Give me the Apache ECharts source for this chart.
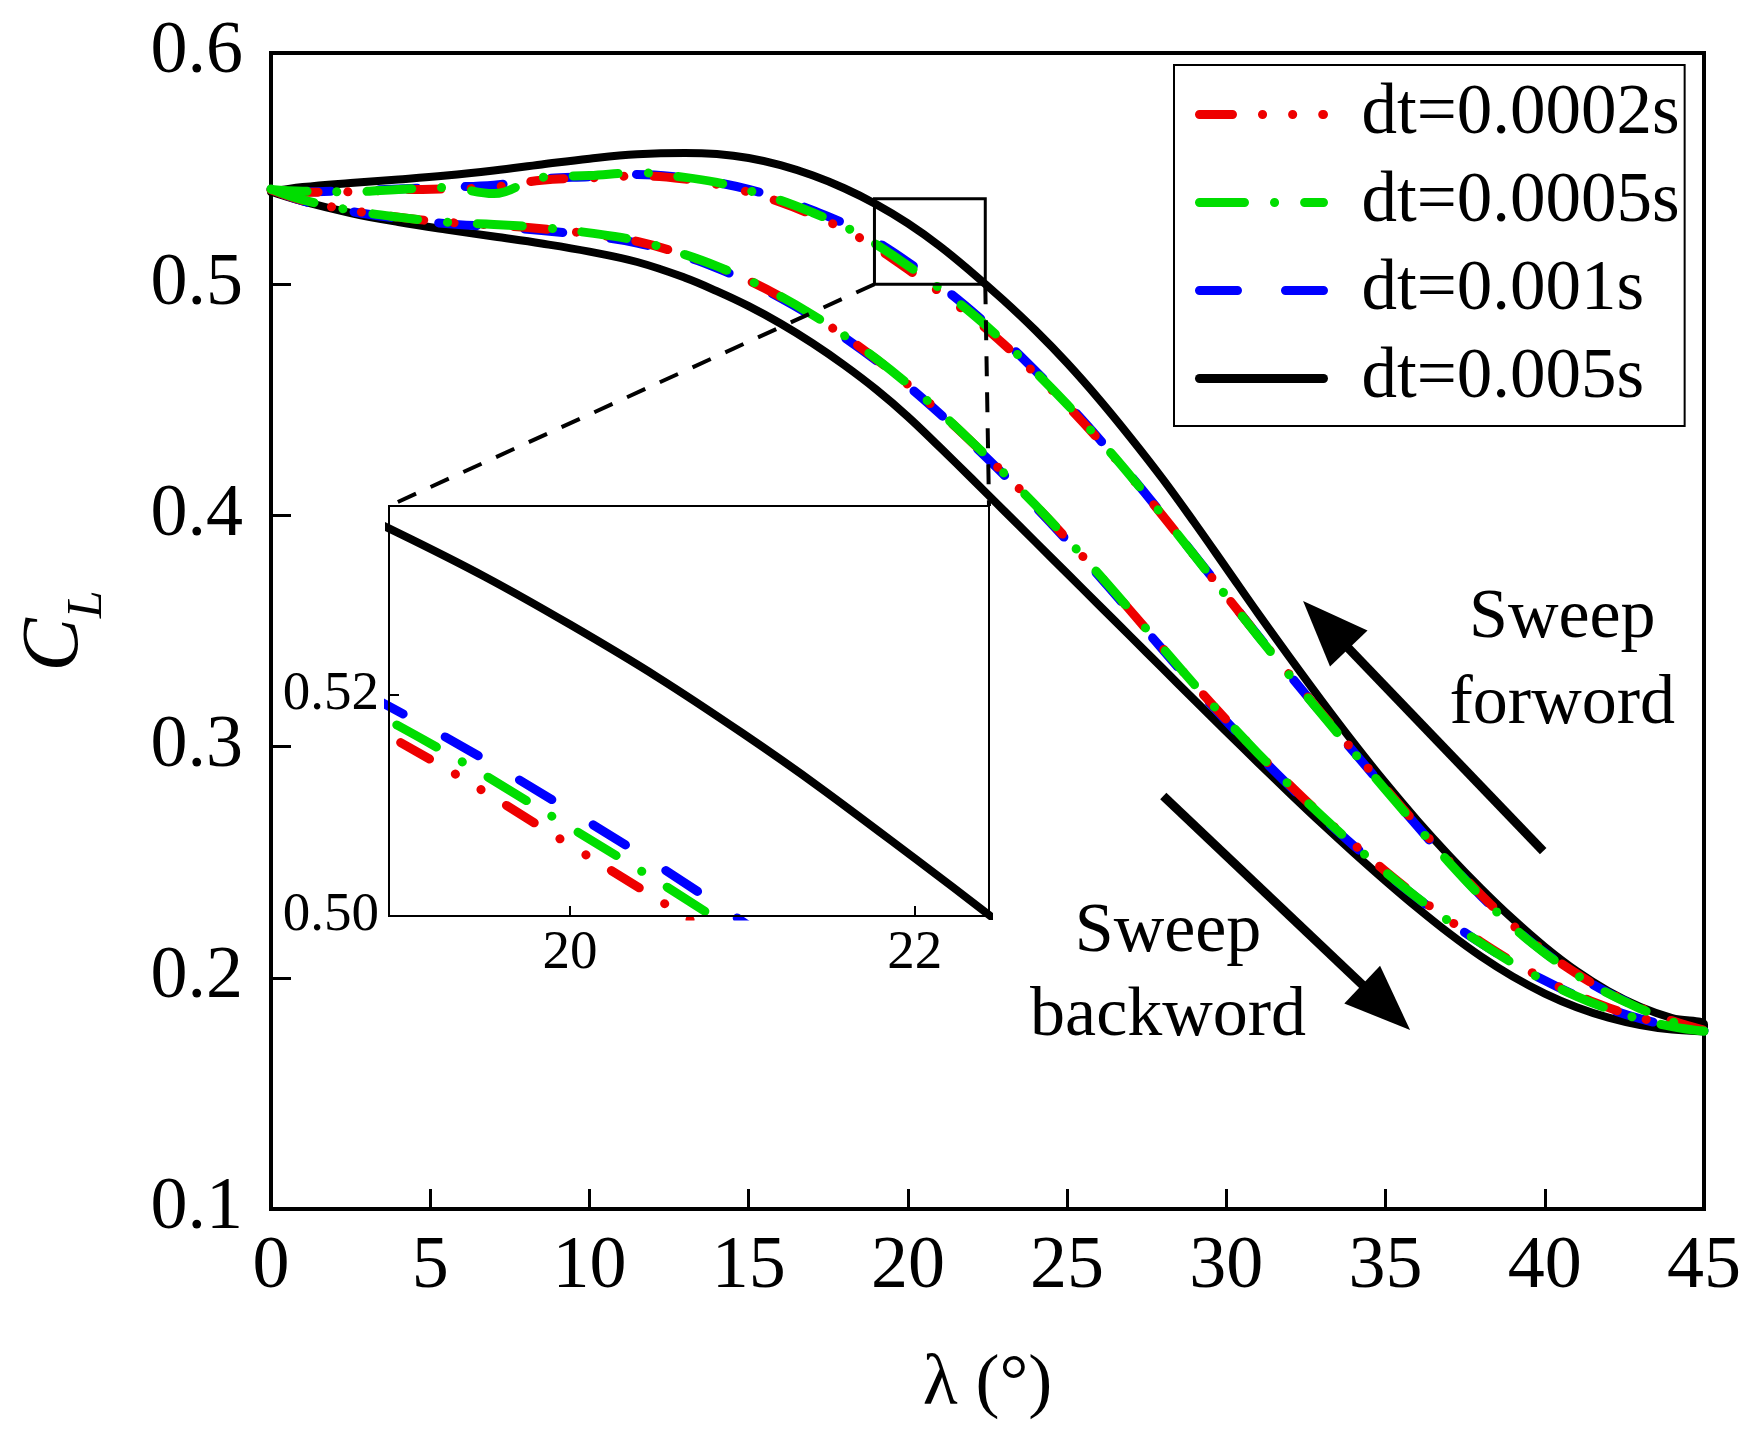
<!DOCTYPE html>
<html>
<head>
<meta charset="utf-8">
<script src="https://cdn.jsdelivr.net/npm/echarts@6/dist/echarts.min.js"></script>
<style>
  html, body { margin: 0; padding: 0; background: #fff; }
  #chart { width: 1756px; height: 1443px; }
</style>
</head>
<body>
<div id="chart"></div>
<script>
// sweep angle (deg), shared by every branch
const lambda = [0, 1, 2.5, 4, 5.5, 7, 8.5, 10, 11.5, 13, 14, 15, 16, 17, 18, 19, 20, 21, 22, 23, 24,
  25, 26, 27, 28, 29, 30, 31, 32, 33, 34, 35, 36, 37, 38, 39, 40, 41, 42, 43, 44, 45];

// dt = 0.005s
const black_lower = [0.5400, 0.5358, 0.5308, 0.5269, 0.5236, 0.5206, 0.5176, 0.5141, 0.5096, 0.5028,
  0.4970, 0.4905, 0.4830, 0.4745, 0.4650, 0.4545, 0.4427, 0.4295, 0.4160, 0.4023,
  0.3886, 0.3749, 0.3612, 0.3475, 0.3338, 0.3201, 0.3065, 0.2930, 0.2797, 0.2667,
  0.2541, 0.2419, 0.2302, 0.2192, 0.2092, 0.2005, 0.1932, 0.1873, 0.1828, 0.1796,
  0.1776, 0.1768];
const black_upper = [0.5400, 0.5420, 0.5438, 0.5453, 0.5470, 0.5492, 0.5518, 0.5543, 0.5562, 0.5568,
  0.5563, 0.5546, 0.5515, 0.5471, 0.5415, 0.5346, 0.5263, 0.5165, 0.5052, 0.4931,
  0.4801, 0.4659, 0.4503, 0.4335, 0.4158, 0.3968, 0.3772, 0.3575, 0.3384, 0.3197,
  0.3016, 0.2843, 0.2680, 0.2528, 0.2386, 0.2254, 0.2134, 0.2029, 0.1942, 0.1874,
  0.1826, 0.1799];

// dt = 0.001s
const blue_lower = [0.5410, 0.5360, 0.5315, 0.5285, 0.5262, 0.5248, 0.5232, 0.5210, 0.5178, 0.5120,
  0.5070, 0.5010, 0.4940, 0.4860, 0.4770, 0.4670, 0.4560, 0.4440, 0.4312, 0.4178,
  0.4038, 0.3891, 0.3738, 0.3580, 0.3420, 0.3262, 0.3110, 0.2965, 0.2827, 0.2696,
  0.2572, 0.2455, 0.2345, 0.2243, 0.2149, 0.2064, 0.1988, 0.1922, 0.1867, 0.1823,
  0.1791, 0.1771];
const blue_upper = [0.5405, 0.5400, 0.5405, 0.5412, 0.5420, 0.5428, 0.5455, 0.5465, 0.5475, 0.5460,
  0.5440, 0.5410, 0.5370, 0.5320, 0.5262, 0.5185, 0.5095, 0.4995, 0.4884, 0.4760,
  0.4626, 0.4484, 0.4332, 0.4171, 0.4002, 0.3828, 0.3653, 0.3479, 0.3308, 0.3141,
  0.2977, 0.2815, 0.2655, 0.2500, 0.2354, 0.2222, 0.2109, 0.2014, 0.1934, 0.1869,
  0.1812, 0.1772];

// dt = 0.0005s
const green_lower = [0.5412, 0.5365, 0.5320, 0.5290, 0.5268, 0.5258, 0.5245, 0.5222, 0.5188, 0.5128,
  0.5078, 0.5018, 0.4948, 0.4868, 0.4778, 0.4678, 0.4568, 0.4448, 0.4319, 0.4185,
  0.4045, 0.3898, 0.3745, 0.3587, 0.3427, 0.3268, 0.3116, 0.2970, 0.2831, 0.2700,
  0.2575, 0.2457, 0.2346, 0.2244, 0.2149, 0.2063, 0.1987, 0.1920, 0.1865, 0.1821,
  0.1789, 0.1769];
const green_upper = [0.5410, 0.5402, 0.5400, 0.5410, 0.5418, 0.5392, 0.5462, 0.5470, 0.5482, 0.5462,
  0.5440, 0.5405, 0.5363, 0.5310, 0.5250, 0.5172, 0.5080, 0.4982, 0.4874, 0.4753,
  0.4621, 0.4480, 0.4329, 0.4169, 0.4000, 0.3826, 0.3651, 0.3477, 0.3306, 0.3139,
  0.2975, 0.2813, 0.2653, 0.2498, 0.2352, 0.2220, 0.2107, 0.2012, 0.1932, 0.1867,
  0.1810, 0.1770];

// dt = 0.0002s
const red_lower = [0.5408, 0.5362, 0.5320, 0.5290, 0.5268, 0.5255, 0.5240, 0.5218, 0.5185, 0.5126,
  0.5076, 0.5016, 0.4946, 0.4866, 0.4776, 0.4676, 0.4566, 0.4446, 0.4318, 0.4184,
  0.4044, 0.3897, 0.3744, 0.3586, 0.3426, 0.3268, 0.3116, 0.2971, 0.2833, 0.2702,
  0.2578, 0.2461, 0.2351, 0.2249, 0.2155, 0.2069, 0.1993, 0.1926, 0.1871, 0.1827,
  0.1795, 0.1774];
const red_upper = [0.5408, 0.5398, 0.5400, 0.5408, 0.5412, 0.5420, 0.5450, 0.5460, 0.5468, 0.5455,
  0.5432, 0.5398, 0.5354, 0.5300, 0.5237, 0.5158, 0.5064, 0.4966, 0.4860, 0.4742,
  0.4613, 0.4475, 0.4326, 0.4167, 0.3999, 0.3826, 0.3652, 0.3479, 0.3309, 0.3143,
  0.2980, 0.2819, 0.2660, 0.2505, 0.2359, 0.2227, 0.2114, 0.2018, 0.1937, 0.1871,
  0.1814, 0.1774];

const xTicks = [0, 45, 5];
const yTicks = [0.1, 0.6, 0.1];
// zoomed window shown in the inset
const zoomX = [18.95, 22.43];
const zoomY = [0.50, 0.537];
const insetXLabels = [20, 22];
const insetYLabels = [0.50, 0.52];

const FONT = '"Liberation Serif", "Times New Roman", serif';

// loop: backward branch 0 -> 45, then forward branch 45 -> 0
function loop(lower, upper) {
  const pts = [];
  for (let i = 0; i < lambda.length; i++) pts.push([lambda[i], lower[i]]);
  for (let i = lambda.length - 1; i >= 0; i--) pts.push([lambda[i], upper[i]]);
  return pts;
}

const curves = [
  { name: 'dt=0.005s', color: '#000000', width: 8, type: 'solid', data: loop(black_lower, black_upper) },
  { name: 'dt=0.001s', color: '#0000ff', width: 9, type: [38, 48], data: loop(blue_lower, blue_upper) },
  { name: 'dt=0.0002s', color: '#ee0000', width: 9, type: [33, 30, 0.1, 30, 0.1, 30], data: loop(red_lower, red_upper) },
  { name: 'dt=0.0005s', color: '#00dd00', width: 9, type: [45, 30, 0.1, 30], data: loop(green_lower, green_upper) }
];

const series = [];
curves.forEach(function (c, k) {
  [0, 1].forEach(function (g) {
    series.push({
      name: c.name,
      type: 'line',
      xAxisIndex: g,
      yAxisIndex: g,
      data: c.data,
      symbol: 'none',
      smooth: 0.4,
      clip: true,
      z: g === 0 ? 2 + k * 0.01 : 11,
      itemStyle: { color: c.color },
      lineStyle: { color: c.color, width: c.width, type: c.type, cap: 'round', join: 'round' }
    });
  });
});

const chart = echarts.init(document.getElementById('chart'));
const option = {
  animation: false,
  backgroundColor: '#fff',
  grid: [
    { left: 271, top: 53, width: 1433, height: 1156, containLabel: false, outerBoundsMode: 'none',
      show: true, borderColor: '#000', borderWidth: 4, backgroundColor: 'transparent' },
    { left: 389, top: 506, width: 600, height: 410, containLabel: false, outerBoundsMode: 'none',
      show: true, borderColor: '#000', borderWidth: 2, backgroundColor: '#fff', z: 10 }
  ],
  xAxis: [
    {
      type: 'value', gridIndex: 0, min: xTicks[0], max: xTicks[1], interval: xTicks[2],
      name: 'λ (°)', nameLocation: 'middle', nameGap: 140,
      nameTextStyle: { fontFamily: FONT, fontSize: 72, color: '#000' },
      axisLine: { lineStyle: { color: '#000', width: 4 } },
      axisTick: { inside: true, length: 20, lineStyle: { color: '#000', width: 3 } },
      axisLabel: { fontFamily: FONT, fontSize: 74, color: '#000', margin: 22 },
      splitLine: { show: false }
    },
    {
      type: 'value', gridIndex: 1, min: zoomX[0], max: zoomX[1], z: 12,
      axisLine: { lineStyle: { color: '#000', width: 2 } },
      axisTick: { inside: true, length: 10, customValues: insetXLabels, lineStyle: { color: '#000', width: 2 } },
      axisLabel: { fontFamily: FONT, fontSize: 55, color: '#000', margin: 10, customValues: insetXLabels },
      splitLine: { show: false }
    }
  ],
  yAxis: [
    {
      type: 'value', gridIndex: 0, min: yTicks[0], max: yTicks[1], interval: yTicks[2],
      name: '{c|C}{l|L}', nameLocation: 'middle', nameGap: 158, nameRotate: 90,
      nameTextStyle: {
        color: '#000',
        rich: {
          c: { fontFamily: FONT, fontSize: 80, fontStyle: 'italic', color: '#000', lineHeight: 80, verticalAlign: 'top' },
          l: { fontFamily: FONT, fontSize: 50, fontStyle: 'italic', color: '#000', lineHeight: 97, verticalAlign: 'bottom' }
        }
      },
      axisLine: { lineStyle: { color: '#000', width: 4 } },
      axisTick: { inside: true, length: 20, lineStyle: { color: '#000', width: 3 } },
      axisLabel: { fontFamily: FONT, fontSize: 74, color: '#000', margin: 28, formatter: function (v) { return v.toFixed(1); } },
      splitLine: { show: false }
    },
    {
      type: 'value', gridIndex: 1, min: zoomY[0], max: zoomY[1], z: 12,
      axisLine: { lineStyle: { color: '#000', width: 2 } },
      axisTick: { inside: true, length: 10, customValues: insetYLabels, lineStyle: { color: '#000', width: 2 } },
      axisLabel: { fontFamily: FONT, fontSize: 55, color: '#000', margin: 10, customValues: insetYLabels,
        formatter: function (v) { return v.toFixed(2); } },
      splitLine: { show: false }
    }
  ],
  legend: {
    orient: 'vertical',
    left: 1174, top: 65,
    data: ['dt=0.0002s', 'dt=0.0005s', 'dt=0.001s', 'dt=0.005s'],
    itemWidth: 124, itemHeight: 20, itemGap: 17,
    padding: [14, 5, 12, 21],
    borderColor: '#000', borderWidth: 2, borderRadius: 0,
    backgroundColor: '#fff',
    itemStyle: { opacity: 0 },
    lineStyle: { width: 9 },
    textStyle: { fontFamily: FONT, fontSize: 71, lineHeight: 70, color: '#000', padding: [0, 0, 0, 33] },
    z: 20
  },
  series: series
};
chart.setOption(option);

// annotations, placed in data coordinates
const arrowForward = [[39.95, 0.2548], [32.41, 0.363]];
const arrowBackward = [[28.02, 0.2786], [35.77, 0.1774]];
const textForward = { pos: [40.55, 0.3366], text: 'Sweep\nforword' };
const textBackward = { pos: [28.17, 0.2012], text: 'Sweep\nbackword' };

const P = function (p) { return chart.convertToPixel({ gridIndex: 0 }, p); };
const Pi = function (p) { return chart.convertToPixel({ gridIndex: 1 }, p); };

function arrow(a, b) {
  const s = P(a), t = P(b);
  const dx = t[0] - s[0], dy = t[1] - s[1];
  const len = Math.sqrt(dx * dx + dy * dy);
  const ux = dx / len, uy = dy / len;
  const head = 66, hw = 26;
  const bx = t[0] - ux * head, by = t[1] - uy * head;
  return [
    { type: 'line', z: 30, shape: { x1: s[0], y1: s[1], x2: bx + ux * 10, y2: by + uy * 10 },
      style: { stroke: '#000', lineWidth: 9 } },
    { type: 'polygon', z: 30, shape: { points: [t, [bx - uy * hw, by + ux * hw], [bx + uy * hw, by - ux * hw]] },
      style: { fill: '#000' } }
  ];
}

const b0 = P([zoomX[0], zoomY[1]]);
const b1 = P([zoomX[1], zoomY[0]]);
const i0 = Pi([zoomX[0], zoomY[1]]);
const i1 = Pi([zoomX[1], zoomY[1]]);
const tf = P(textForward.pos), tb = P(textBackward.pos);

const graphics = [
  { type: 'rect', z: 30, shape: { x: b0[0], y: b0[1], width: b1[0] - b0[0], height: b1[1] - b0[1] },
    style: { fill: 'none', stroke: '#000', lineWidth: 3 } },
  { type: 'line', z: 30, shape: { x1: b0[0], y1: b1[1], x2: i0[0], y2: i0[1] },
    style: { stroke: '#000', lineWidth: 4, lineDash: [20, 16] } },
  { type: 'line', z: 30, shape: { x1: b1[0], y1: b1[1], x2: i1[0], y2: i1[1] },
    style: { stroke: '#000', lineWidth: 4, lineDash: [20, 16] } },
  { type: 'text', z: 30, x: tf[0], y: tf[1],
    style: { text: textForward.text, fontFamily: FONT, fontSize: 70, lineHeight: 86, fill: '#000', align: 'center', verticalAlign: 'middle' } },
  { type: 'text', z: 30, x: tb[0], y: tb[1],
    style: { text: textBackward.text, fontFamily: FONT, fontSize: 70, lineHeight: 84, fill: '#000', align: 'center', verticalAlign: 'middle' } }
].concat(arrow(arrowForward[0], arrowForward[1]), arrow(arrowBackward[0], arrowBackward[1]));

chart.setOption({ graphic: graphics });
</script>
</body>
</html>
